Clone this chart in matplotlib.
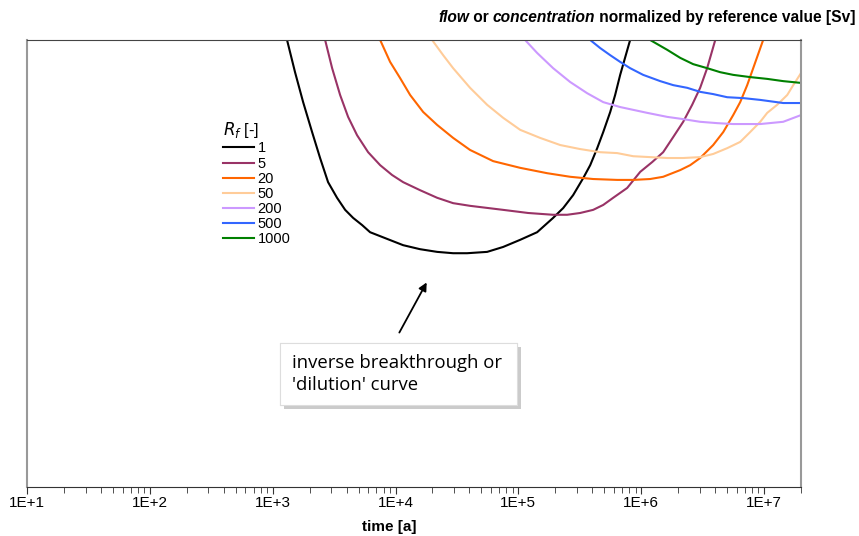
import numpy as np
import matplotlib
matplotlib.use("Agg")
import matplotlib.pyplot as plt
from matplotlib.patches import Rectangle
import matplotlib.patheffects as pe

plt.rcParams['font.family'] = ['Liberation Sans', 'DejaVu Sans']

# log10(time [a]) and normalized value, per retardation factor Rf
logt_1 = [3.117, 3.182, 3.248, 3.321, 3.386, 3.451, 3.524, 3.590, 3.655, 3.728, 3.793,
          3.932, 4.062, 4.200, 4.339, 4.469, 4.583, 4.746, 4.876, 5.015, 5.153, 5.283,
          5.365, 5.446, 5.528, 5.585, 5.642, 5.691, 5.748, 5.788, 5.829, 5.910]
v_1 = [1.0, 0.928, 0.861, 0.794, 0.736, 0.682, 0.647, 0.620, 0.602, 0.586, 0.570,
       0.555, 0.541, 0.532, 0.526, 0.523, 0.523, 0.526, 0.537, 0.553, 0.570, 0.602,
       0.624, 0.653, 0.691, 0.720, 0.758, 0.794, 0.839, 0.877, 0.922, 1.0]

logt_5 = [3.427, 3.484, 3.549, 3.614, 3.687, 3.777, 3.875, 3.972, 4.062, 4.200, 4.339,
          4.469, 4.607, 4.876, 5.080, 5.283, 5.397, 5.503, 5.609, 5.691, 5.772, 5.886,
          5.992, 6.090, 6.179, 6.261, 6.342, 6.415, 6.480, 6.537, 6.603]
v_5 = [1.0, 0.937, 0.877, 0.828, 0.787, 0.749, 0.720, 0.698, 0.682, 0.664, 0.647,
       0.635, 0.629, 0.620, 0.613, 0.609, 0.609, 0.613, 0.620, 0.631, 0.647, 0.669,
       0.705, 0.727, 0.749, 0.783, 0.817, 0.855, 0.893, 0.937, 1.0]

logt_20 = [3.875, 3.956, 4.037, 4.119, 4.225, 4.339, 4.469, 4.607, 4.795, 5.015, 5.235,
           5.422, 5.609, 5.805, 5.935, 6.073, 6.179, 6.318, 6.399, 6.480, 6.586, 6.668,
           6.749, 6.806, 6.863, 6.912, 6.993]
v_20 = [1.0, 0.951, 0.915, 0.877, 0.839, 0.810, 0.781, 0.754, 0.729, 0.714, 0.702,
        0.694, 0.689, 0.687, 0.687, 0.689, 0.694, 0.709, 0.720, 0.736, 0.765, 0.794,
        0.832, 0.861, 0.899, 0.937, 1.0]

logt_50 = [4.298, 4.388, 4.469, 4.607, 4.746, 4.876, 5.015, 5.177, 5.341, 5.503, 5.666,
           5.805, 5.935, 6.073, 6.212, 6.342, 6.480, 6.586, 6.700, 6.806, 6.887, 6.969,
           7.026, 7.107, 7.189, 7.238, 7.301]
v_50 = [1.0, 0.966, 0.937, 0.893, 0.855, 0.826, 0.799, 0.781, 0.765, 0.756, 0.749,
        0.747, 0.740, 0.738, 0.736, 0.736, 0.738, 0.745, 0.758, 0.772, 0.794, 0.817,
        0.837, 0.855, 0.877, 0.899, 0.926]

logt_200 = [5.055, 5.153, 5.283, 5.422, 5.560, 5.691, 5.829, 6.049, 6.212, 6.342, 6.480,
            6.619, 6.749, 6.969, 7.156, 7.301]
v_200 = [1.0, 0.971, 0.937, 0.906, 0.881, 0.861, 0.850, 0.837, 0.828, 0.823, 0.817,
         0.814, 0.812, 0.812, 0.817, 0.832]

logt_500 = [5.585, 5.666, 5.748, 5.829, 5.910, 6.016, 6.155, 6.261, 6.375, 6.480, 6.586,
            6.700, 6.831, 6.969, 7.156, 7.301]
v_500 = [1.0, 0.982, 0.966, 0.951, 0.937, 0.922, 0.908, 0.899, 0.893, 0.884, 0.879,
         0.872, 0.870, 0.866, 0.859, 0.859]

logt_1000 = [6.073, 6.212, 6.318, 6.423, 6.537, 6.643, 6.749, 6.888, 7.026, 7.156, 7.301]
v_1000 = [1.0, 0.978, 0.960, 0.946, 0.937, 0.928, 0.922, 0.917, 0.913, 0.908, 0.904]

labels = ['1', '5', '20', '50', '200', '500', '1000']
colors = ['#000000', '#993366', '#FF6600', '#FFCC99', '#CC99FF', '#3366FF', '#008000']
series = [(logt_1, v_1), (logt_5, v_5), (logt_20, v_20), (logt_50, v_50),
          (logt_200, v_200), (logt_500, v_500), (logt_1000, v_1000)]

fig = plt.figure(figsize=(8.59, 5.36), dpi=100)
ax = fig.add_axes([27/859, 1-487/536, (801-27)/859, (487-40)/536])

for (lt, v), lab, c in zip(series, labels, colors):
    ax.plot(10**np.array(lt), v, color=c, lw=1.5, label=lab, solid_joinstyle='round')

ax.set_xscale('log')
ax.set_xlim(10, 2e7)
ax.set_ylim(0, 1)
ax.set_yticks([])
ax.set_xticks([1e1, 1e2, 1e3, 1e4, 1e5, 1e6, 1e7])
ax.set_xticklabels(['1E+1', '1E+2', '1E+3', '1E+4', '1E+5', '1E+6', '1E+7'], fontsize=11)
ax.tick_params(axis='x', which='major', length=5, direction='out', color='#333333', pad=1.5)
ax.tick_params(axis='x', which='minor', length=4, direction='out', color='#333333')
ax.spines['bottom'].set_color('#333333')
ax.spines['top'].set_color('#444444')
ax.spines['left'].set_color('#999999')
ax.spines['right'].set_color('#999999')
ax.spines['left'].set_linewidth(1.5)
ax.spines['right'].set_linewidth(1.5)

leg = ax.legend(title='$R_f$ [-]', frameon=False, fontsize=10.5, loc='upper left',
                bbox_to_anchor=(216/859, 1-113/536), bbox_transform=fig.transFigure,
                handlelength=2.1, handletextpad=0.25, labelspacing=0.08, borderpad=0)
leg.get_title().set_fontsize(12)
leg._legend_box.align = 'left'

# title made of bold pieces, some italic
t1 = fig.text(438/859, 1-22/536, 'flow', fontsize=11.2, weight='bold', style='italic', va='baseline')
t2 = ax.annotate(' or ', xy=(1, 0), xycoords=t1, fontsize=11.2, weight='bold', va='bottom')
t3 = ax.annotate('concentration', xy=(1, 0), xycoords=t2, fontsize=11.2, weight='bold',
                 style='italic', va='bottom')
ax.annotate(' normalized by reference value [Sv]', xy=(1, 0), xycoords=t3, fontsize=11.2,
            weight='bold', va='bottom')

fig.text(389/859, 1-527/536, 'time [a]', fontsize=11, weight='bold', ha='center', va='center')

# annotation box with shadow
box = Rectangle((280/859, 1-405/536), (517-280)/859, (405-343)/536, transform=fig.transFigure,
                facecolor='white', edgecolor='#dddddd', lw=0.8, zorder=5)
box.set_path_effects([pe.withSimplePatchShadow(offset=(3, -3), shadow_rgbFace='#999999', alpha=0.5),
                      pe.Normal()])
fig.patches.append(box)
fig.text(292/859, 1-374/536, "inverse breakthrough or\n'dilution' curve", fontsize=13.3,
         family=['Open Sans', 'DejaVu Sans'], va='center', ha='left', linespacing=1.3, zorder=6)

ax.annotate('', xy=(428/859, 1-280/536), xytext=(398/859, 1-335/536),
            xycoords='figure fraction', textcoords='figure fraction',
            arrowprops=dict(arrowstyle='-|>', color='black', lw=1.3, mutation_scale=12))

fig.savefig('out.png', dpi=100)
